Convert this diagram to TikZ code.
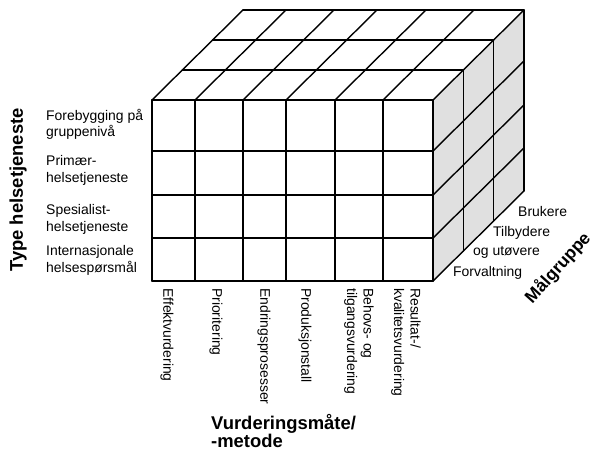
\documentclass[tikz,border=0pt]{standalone}
\usepackage{fontspec}
\setmainfont{Liberation Sans}
\begin{document}
\begin{tikzpicture}[x=1bp,y=-1bp,
  grid/.style={line width=1.4bp, line join=round, line cap=round},
  lab/.style={font=\fontsize{14}{16.5}\selectfont, inner sep=0pt, align=left},
  biglab/.style={font=\fontsize{18.5}{18.5}\selectfont\bfseries, inner sep=0pt, align=left},
  collab/.style={lab, rotate=-90, anchor=west}]
\useasboundingbox (0,0) rectangle (595,452);
% geometry
\def\dx{30.33}\def\dy{30}
% right face fill
\fill[black!12] (433,100) -- (524,10) -- (524,191) -- (433,281) -- cycle;
% front face fill
\fill[white] (152,100) rectangle (433,281);
% top face
\foreach \k in {0,1,2,3}{
  \draw[grid] ({152+\k*\dx},{100-\k*\dy}) -- ({433+\k*\dx},{100-\k*\dy});
}
\foreach \x in {152,195,243,286,335,383,433}{
  \draw[grid] (\x,100) -- ({\x+3*\dx},{100-3*\dy});
}
% right face
\foreach \k in {0,1,2,3}{
  \draw[grid] ({433+\k*\dx},{100-\k*\dy}) -- ({433+\k*\dx},{281-\k*\dy});
}
\foreach \y in {151,195,238,281}{
  \draw[grid] (433,\y) -- ({433+3*\dx},{\y-3*\dy});
}
% front face grid
\foreach \x in {152,195,243,286,335,383,433}{
  \draw[grid] (\x,100) -- (\x,281);
}
\foreach \y in {100,151,195,238,281}{
  \draw[grid] (152,\y) -- (433,\y);
}
% left labels
\node[lab, anchor=west] (t1) at (46,124.5) {Forebygging på\\gruppenivå};
\node[lab, anchor=west] (t2) at (46,170.5) {Primær-\\helsetjeneste};
\node[lab, anchor=west] (t3) at (46,219.5) {Spesialist-\\helsetjeneste};
\node[lab, anchor=west] (t4) at (46,260.5) {Internasjonale\\helsespørsmål};
\node[biglab, rotate=90] (type) at (18,190) {Type helsetjeneste};
% bottom labels
\node[collab] (c1) at (167,288) {Effektvurdering};
\node[collab] (c2) at (216,288) {Prioritering};
\node[collab] (c3) at (264,288) {Endringsprosesser};
\node[collab] (c4) at (305,288) {Produksjonstall};
\node[collab] (c5) at (359,288) {Behovs- og\\tilgangsvurdering};
\node[collab] (c6) at (406,288) {Resultat-/\\kvalitetsvurdering};
\node[biglab, anchor=north west] (vurd) at (211,414) {Vurderingsmåte/\\-metode};
% right labels
\node[lab, anchor=west] (g1) at (518,212) {Brukere};
\node[lab, anchor=west] (g2a) at (493,233) {Tilbydere};
\node[lab, anchor=west] (g2b) at (473,252) {og utøvere};
\node[lab, anchor=west] (g3) at (453,273) {Forvaltning};
\node[biglab, font=\fontsize{17.5}{17.5}\selectfont\bfseries, rotate=48] (maal) at (558,268) {Målgruppe};
\end{tikzpicture}
\end{document}
